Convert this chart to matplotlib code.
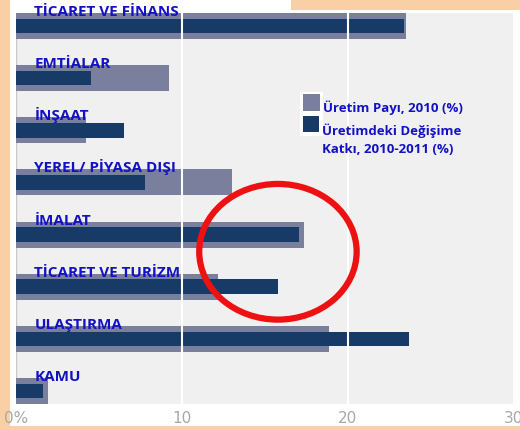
import numpy as np
import matplotlib
matplotlib.use('Agg')
import matplotlib.pyplot as plt
from matplotlib.patches import Ellipse, Rectangle

sectors = ["TİCARET VE FİNANS", "EMTİALAR", "İNŞAAT", "YEREL/ PİYASA DIŞI",
           "İMALAT", "TİCARET VE TURİZM", "ULAŞTIRMA", "KAMU"]
share_2010 = [23.5, 9.2, 4.2, 13.0, 17.4, 12.2, 18.9, 1.9]
contrib_2010_2011 = [23.4, 4.5, 6.5, 7.8, 17.1, 15.8, 23.7, 1.6]
xticks = [0, 10, 20, 30]
xtick_labels = ["0%", "10", "20", "30"]

gray_c = "#7b7f9e"
dark_c = "#173a66"
label_c = "#1212c4"
orange = "#f9cfa6"

fig = plt.figure(figsize=(5.2, 4.31), dpi=100, facecolor="white")
# orange slide frame: left edge, bottom edge, top right corner
for r in [(0, 0, 0.02, 1), (0, 0, 1, 0.009), (0.56, 0.975, 0.44, 0.025)]:
    fig.patches.append(Rectangle(r[:2], r[2], r[3], transform=fig.transFigure,
                                 facecolor=orange, edgecolor="none", zorder=-1))
ax = fig.add_axes([0.031, 0.060, 0.956, 0.908])
ax.set_facecolor("#f0f0f0")

y = np.arange(len(sectors))
ax.barh(y, share_2010, height=0.5, color=gray_c, zorder=2)
ax.barh(y, contrib_2010_2011, height=0.28, color=dark_c, zorder=3)
for i, lab in enumerate(sectors):
    ax.text(1.1, i - 0.21, lab, color=label_c, fontsize=11, fontweight="bold",
            family="Open Sans", va="baseline", ha="left", zorder=5, clip_on=False)

ax.set_xlim(0, 30)
ax.set_ylim(7.25, -0.25)
ax.set_xticks(xticks)
ax.set_xticklabels(xtick_labels, color="#a8a8a8", fontsize=11)
ax.tick_params(axis="x", length=0, pad=4)
ax.set_yticks([])
for s in ax.spines.values():
    s.set_visible(False)
ax.axvline(0, color="#c8c8c8", lw=1, zorder=1)
for v in [10, 20]:
    ax.axvline(v, color="white", lw=1.5, zorder=4)

# legend
lx = 0.583
fig.patches.append(Rectangle((lx - 0.006, 0.682), 0.045, 0.103, transform=fig.transFigure,
                             facecolor="white", edgecolor="none", zorder=5))
fig.patches.append(Rectangle((lx, 0.740), 0.033, 0.039, transform=fig.transFigure,
                             facecolor=gray_c, edgecolor="none", zorder=6))
fig.patches.append(Rectangle((lx, 0.691), 0.031, 0.037, transform=fig.transFigure,
                             facecolor=dark_c, edgecolor="none", zorder=6))
fig.text(0.621, 0.749, "Üretim Payı, 2010 (%)", color=label_c, fontsize=9.5,
         fontweight="bold", family="Open Sans", va="center")
fig.text(0.619, 0.696, "Üretimdeki Değişime", color=label_c, fontsize=9.5,
         fontweight="bold", family="Open Sans", va="center")
fig.text(0.619, 0.652, "Katkı, 2010-2011 (%)", color=label_c, fontsize=9.5,
         fontweight="bold", family="Open Sans", va="center")

# red highlight circle
ax.add_patch(Ellipse((15.8, 4.33), 9.5, 2.6, fill=False, edgecolor="#ee1111",
                     lw=4.5, zorder=6))

plt.savefig("out.png", dpi=100, facecolor=fig.get_facecolor())
plt.close()
